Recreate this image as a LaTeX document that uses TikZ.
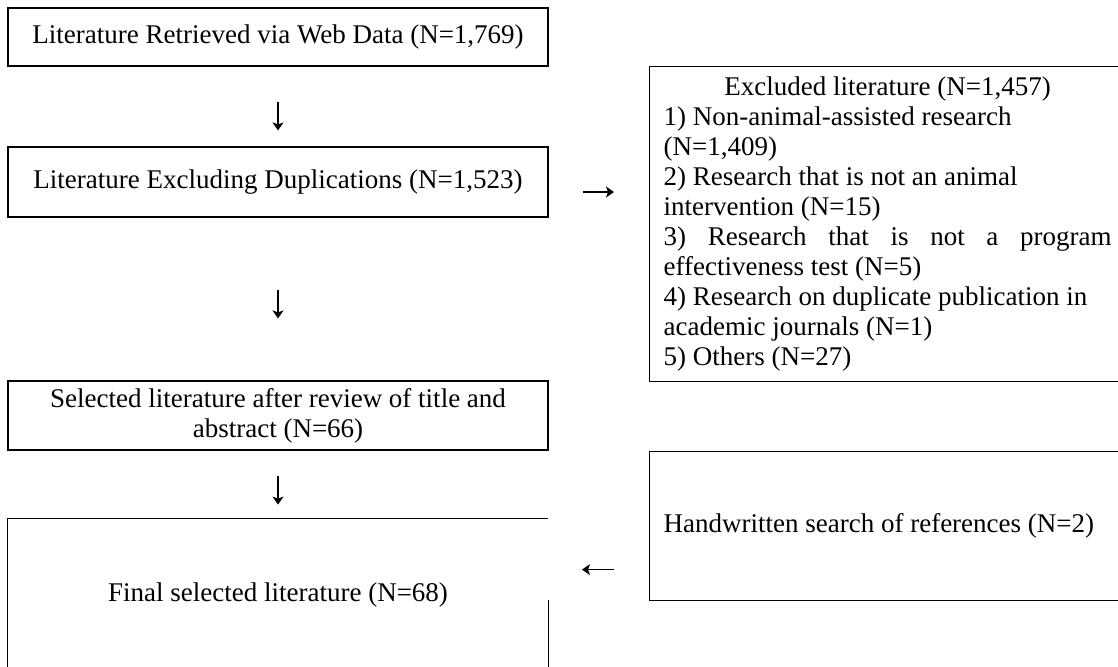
\documentclass[tikz,border=0pt]{standalone}
\usepackage{fontspec}
\setmainfont{Liberation Serif}
\usetikzlibrary{arrows.meta,positioning}

\tikzset{
  flowbox/.style={draw,line width=0.6pt,minimum width=270pt,inner sep=0pt,align=center},
  sidebox/.style={draw,line width=0.6pt,anchor=north west,text width=224pt,inner xsep=7pt,inner ysep=0pt,align=flush left},
  flowarrow/.style={line width=0.6pt,-{Stealth[length=4pt,width=5.5pt,inset=1pt]}},
}

\begin{document}
\begin{tikzpicture}[x=0.5pt,y=-0.5pt,font=\fontsize{13.5}{15}\selectfont]
  \useasboundingbox (0,0) rectangle (1118,666);
  \clip (0,0) rectangle (1118,666);

  % main column
  \node[flowbox,minimum height=29pt] (web) at (278,37) {Literature Retrieved via Web Data (N=1,769)};
  \node[flowbox,minimum height=35pt] (dedup) at (278,182) {Literature Excluding Duplications (N=1,523)};
  \node[flowbox,minimum height=34.5pt] (screened) at (278,415.5)
    {Selected literature after review of title and\\abstract (N=66)};
  \node[minimum width=270pt,minimum height=76pt,inner sep=0pt] (final) at (278,595)
    {Final selected literature (N=68)};
  \draw[line width=0.6pt] (final.south west) -- (final.north west) -- (final.north east);
  \draw[line width=0.6pt] (final.east |- 0,600) -- (final.south east);

  % side column
  \node[sidebox,minimum height=157.5pt] (excluded) at (649,66) {%
    \makebox[\linewidth][c]{Excluded literature (N=1,457)}\\
    1) Non-animal-assisted research\\
    (N=1,409)\\
    2) Research that is not an animal\\
    intervention (N=15)\\
    \makebox[\linewidth]{3)\hfill Research\hfill that\hfill is\hfill not\hfill a\hfill program}\\
    effectiveness test (N=5)\\
    4) Research on duplicate publication in\\
    academic journals (N=1)\\
    5) Others (N=27)};
  \node[sidebox,minimum height=74.5pt] (handsearch) at (649,451) {Handwritten search of references (N=2)};

  % connectors
  \draw[flowarrow,shorten <=17.5pt,shorten >=8pt] (web) -- (dedup);
  \draw[flowarrow,shorten <=36pt,shorten >=31pt] (dedup) -- (screened);
  \draw[flowarrow,shorten <=12.5pt,shorten >=7pt] (screened) -- (final);
  \draw[flowarrow] ([xshift=17pt,yshift=-5pt]dedup.east) -- ([xshift=-17.5pt,yshift=-5pt]dedup.east -| excluded.west);
  \draw[flowarrow] ([xshift=-17.5pt,yshift=-21.75pt]handsearch.west) -- ([xshift=-33.5pt,yshift=-21.75pt]handsearch.west);
\end{tikzpicture}
\end{document}
